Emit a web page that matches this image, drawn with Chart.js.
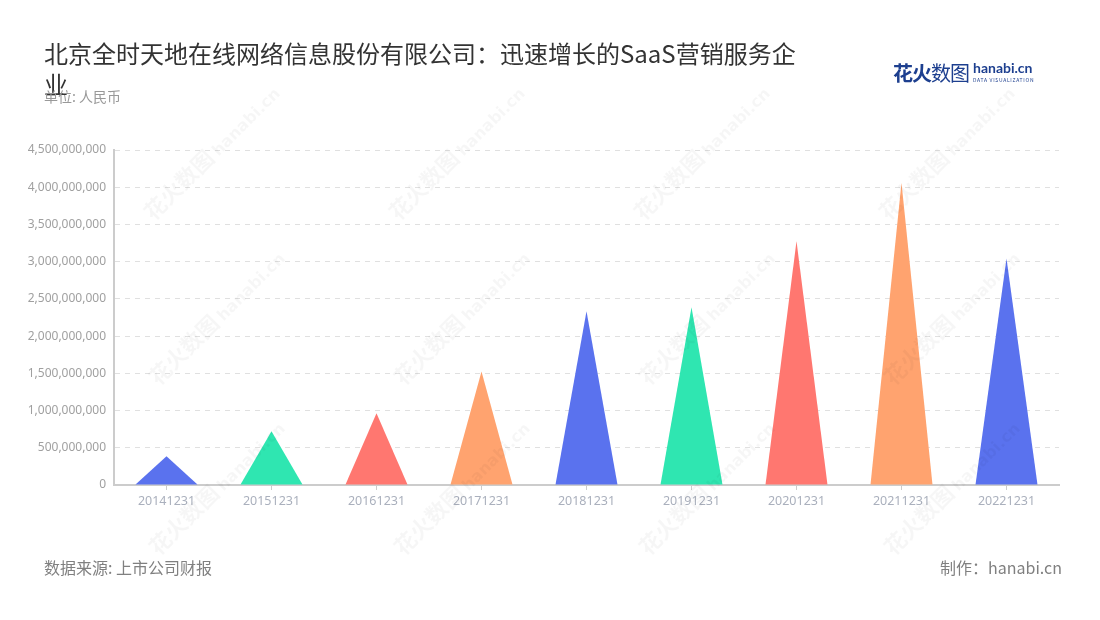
<!DOCTYPE html>
<html>
<head>
<meta charset="utf-8">
<script src="https://cdn.jsdelivr.net/npm/chart.js@4"></script>
<style>
  html, body { margin: 0; padding: 0; background: #fff; }
  body { width: 1100px; height: 620px; position: relative; overflow: hidden;
         font-family: "Noto Sans CJK SC", "Noto Sans", sans-serif; }
  #title { position: absolute; left: 44px; top: 37px; width: 765px; font-size: 24px;
           line-height: 31px; color: #333; }
  #unit { position: absolute; left: 44px; top: 86px; font-size: 14px; color: #999; }
  #logo { position: absolute; left: 893px; top: 58px; white-space: nowrap; }
  #logo .cn { font-size: 20px; font-weight: bold; color: #1d3f8f; vertical-align: top; letter-spacing: -1px; }
  #logo .cn em { font-style: normal; font-weight: normal; }
  #logo .en { display: inline-block; vertical-align: top; margin-left: 4px; margin-top: 3px; line-height: 1; }
  #logo .en b { display: block; font-family: "Lato"; font-size: 14px; color: #1d3f8f; }
  #logo .en i { display: block; font-style: normal; font-size: 5px; color: #1d3f8f; letter-spacing: 0.7px; margin-top: 2px; }
  .foot { position: absolute; top: 555px; font-size: 16px; color: #808080; }
  .wm { position: absolute; transform: rotate(-45deg); color: rgba(0,0,0,0.035);
        font-weight: bold; font-size: 22px; white-space: nowrap; pointer-events: none; }
  .wm span { font-family: "DejaVu Sans"; font-size: 16px; margin-left: 4px; }
  #wrap { position: absolute; left: 0; top: 0; width: 1100px; height: 620px; }
</style>
</head>
<body>
<div id="wrap"><canvas id="revenueChart"></canvas></div>
<div id="title">北京全时天地在线网络信息股份有限公司：迅速增长的SaaS营销服务企业</div>
<div id="unit">单位: 人民币</div>
<div id="logo"><span class="cn">花火<em>数图</em></span><span class="en"><b>hanabi.cn</b><i>DATA VISUALIZATION</i></span></div>
<div class="foot" style="left:44px">数据来源: 上市公司财报</div>
<div class="foot" style="right:38px">制作：hanabi.cn</div>
<script>
// Revenue by report date (RMB)
const categories = ["20141231", "20151231", "20161231", "20171231", "20181231",
                    "20191231", "20201231", "20211231", "20221231"];
const revenue = [385000000, 721000000, 964000000, 1523000000, 2335000000,
                 2389000000, 3273000000, 4059000000, 3044000000];
const yTicksMax = 4500000000;
const yTickStep = 500000000;

const palette = ["#5A72EE", "#2FE6B1", "#FF7770", "#FFA36F"];

// Watermarks
const marks = [[120, 135], [365, 135], [610, 135], [855, 135],
               [125, 300], [370, 300], [615, 300], [860, 300],
               [125, 470], [370, 470], [615, 470], [860, 470]];
marks.forEach(([x, y]) => {
  const d = document.createElement("div");
  d.className = "wm";
  d.style.left = x + "px";
  d.style.top = y + "px";
  d.innerHTML = "花火数图<span>hanabi.cn</span>";
  document.body.appendChild(d);
});

// Draw each bar as a triangle using the bar element geometry
const trianglePlugin = {
  id: "triangles",
  afterDatasetsDraw(chart) {
    const ctx = chart.ctx;
    const meta = chart.getDatasetMeta(0);
    meta.data.forEach((bar, i) => {
      const half = bar.width / 2;
      ctx.save();
      ctx.fillStyle = palette[i % palette.length];
      ctx.beginPath();
      ctx.moveTo(bar.x - half, bar.base);
      ctx.lineTo(bar.x, bar.y);
      ctx.lineTo(bar.x + half, bar.base);
      ctx.closePath();
      ctx.fill();
      ctx.restore();
    });
  },
};

function initRevenueChart() {
  const ctx = document.getElementById("revenueChart");
  new Chart(ctx, {
    type: "bar",
    data: {
      labels: categories,
      datasets: [
        {
          data: revenue,
          backgroundColor: "rgba(0,0,0,0)",
          categoryPercentage: 1,
          barPercentage: 0.59,
        },
      ],
    },
    options: {
      responsive: true,
      maintainAspectRatio: false,
      animation: false,
      layout: { padding: { top: 150, right: 41, bottom: 95, left: 0 } },
      plugins: { legend: { display: false }, tooltip: { enabled: false } },
      scales: {
        x: {
          grid: { display: true, drawOnChartArea: false, drawTicks: true, tickLength: 5, color: "#ccc", offset: false },
          border: { display: true, color: "#ccc", width: 2 },
          ticks: { color: "#aab0bd", font: { size: 12.5, family: "Noto Sans" }, padding: 4, maxRotation: 0 },
          afterFit(scale) { scale.height = 40; },
        },
        y: {
          min: 0,
          max: yTicksMax,
          grid: { color: "#e0e0e0", drawTicks: false },
          border: { display: true, color: "#ccc", width: 2, dash: [5, 5] },
          ticks: {
            stepSize: yTickStep,
            color: "#a0a0a0",
            font: { size: 12, family: "Noto Sans" },
            padding: 8,
            callback: (v) => v.toLocaleString("en-US"),
          },
          afterFit(scale) { scale.width = 114; },
        },
      },
    },
    plugins: [trianglePlugin],
  });
}

document.addEventListener("DOMContentLoaded", function () {
  initRevenueChart();
});
</script>
</body>
</html>
